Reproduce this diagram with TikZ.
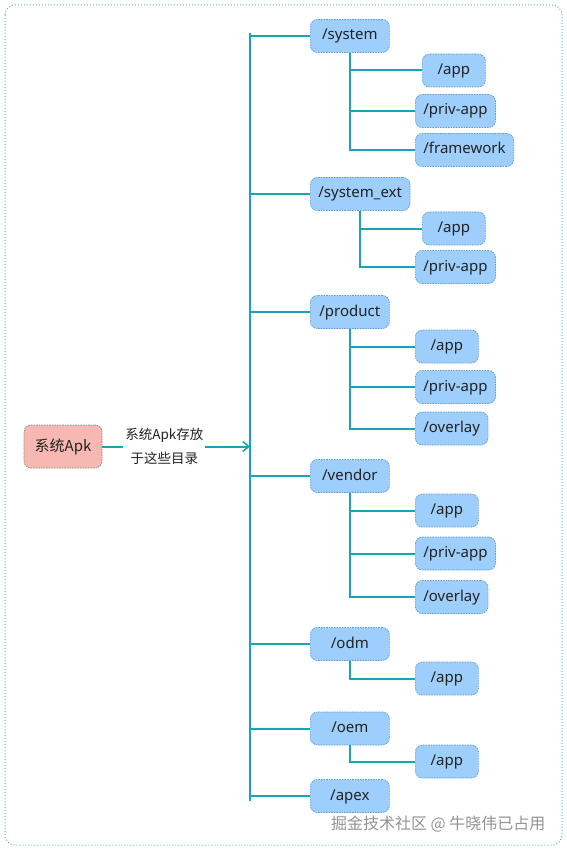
\documentclass[tikz,border=0pt]{standalone}
\usepackage{fontspec}
\setmainfont{Noto Sans}
\newfontfamily\cjk{Noto Sans CJK SC}
\usetikzlibrary{arrows.meta,positioning}
\definecolor{linkcol}{HTML}{14A6B6}
\definecolor{dirfill}{HTML}{9ECFFC}
\definecolor{dirline}{HTML}{5E9ED6}
\definecolor{apkfill}{HTML}{F6B8B0}
\definecolor{apkline}{HTML}{7F8F8F}
\definecolor{framecol}{HTML}{4FBCC6}
\definecolor{txtcol}{HTML}{222222}
\tikzset{
  dirbox/.style={draw=dirline, fill=dirfill, line width=0.7pt, dash pattern=on 1.6pt off 1pt,
    rounded corners=7pt, minimum height=33pt, inner xsep=8pt, text=txtcol,
    text height=11pt, text depth=3pt,
    font=\fontsize{15}{18}\selectfont, anchor=west},
  parentdir/.style={dirbox, minimum width=79pt},
  childdir/.style={dirbox, minimum width=63pt},
  link/.style={draw=linkcol, line width=2pt},
}
\begin{document}
\begin{tikzpicture}[x=1pt,y=-1pt]
\useasboundingbox (0,0) rectangle (566,850);
\draw[framecol, line width=1pt, dotted, rounded corners=10pt] (5,5) rectangle (562,845);

% source node and bus
\node[draw=apkline, fill=apkfill, line width=0.7pt, dash pattern=on 1.6pt off 1pt, rounded corners=7pt,
  minimum width=78pt, minimum height=43pt, text=txtcol, font=\cjk\fontsize{15}{18}\selectfont] (apk) at (63,446.5) {系统Apk};
\coordinate (busT) at (250,33);
\coordinate (busB) at (250,801);
\draw[link] (busT) -- (busB);
\draw[link, -{Straight Barb[length=6pt,width=10pt,line width=1.6pt]}] (apk.east) -- (apk.east -| busT)
  node[pos=0.42, fill=white, inner sep=2pt, align=center, text=txtcol, font=\cjk\fontsize{13.5}{24}\selectfont] (note) {系统Apk存放\\于这些目录};

% first level
\node[parentdir] (sys) at (310,36) {/system};
\node[parentdir] (sysext) at (310,194) {/system\_ext};
\node[parentdir] (prod) at (310,312) {/product};
\node[parentdir] (vend) at (310,476) {/vendor};
\node[parentdir] (odm) at (310,644) {/odm};
\node[parentdir] (oem) at (310,728.5) {/oem};
\node[parentdir] (apex) at (310,796) {/apex};
\foreach \p in {sys,sysext,prod,vend,odm,oem,apex}
  \draw[link] (busT |- \p.west) -- (\p.west);

% second level
\node[childdir] (sysapp) at (422,70.5) {/app};
\node[childdir] (syspriv) at (415,111) {/priv-app};
\node[childdir] (sysfw) at (415,150) {/framework};
\node[childdir] (extapp) at (422,228.5) {/app};
\node[childdir] (extpriv) at (415,267) {/priv-app};
\node[childdir] (prodapp) at (415,346.5) {/app};
\node[childdir] (prodpriv) at (415,387) {/priv-app};
\node[childdir] (prodovl) at (415,428.5) {/overlay};
\node[childdir] (vendapp) at (415,510.5) {/app};
\node[childdir] (vendpriv) at (415,553.5) {/priv-app};
\node[childdir] (vendovl) at (415,597) {/overlay};
\node[childdir] (odmapp) at (415,678.5) {/app};
\node[childdir] (oemapp) at (415,761.5) {/app};
\foreach \p/\c in {sys/sysapp,sys/syspriv,sys/sysfw,sysext/extapp,sysext/extpriv,
    prod/prodapp,prod/prodpriv,prod/prodovl,vend/vendapp,vend/vendpriv,vend/vendovl,
    odm/odmapp,oem/oemapp}
  \draw[link] (\p.south) |- (\c.west);

\node[anchor=east, text=gray!85, font=\cjk\fontsize{16}{18}\selectfont] (mark) at (549,824) {掘金技术社区 @ 牛晓伟已占用};
\end{tikzpicture}
\end{document}
